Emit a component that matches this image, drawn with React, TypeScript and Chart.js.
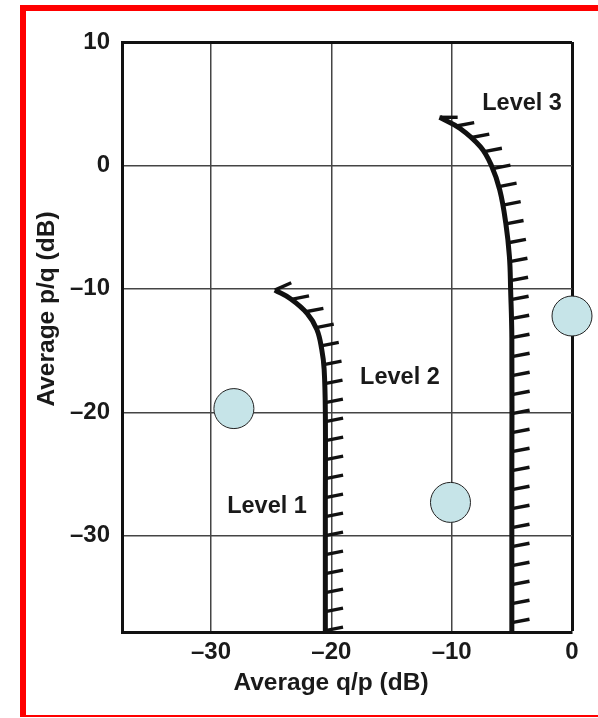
import React, { useEffect, useRef } from 'react';
import { Chart, registerables } from 'chart.js';

Chart.register(...registerables);

// ---- axis data ----
const xTickValues = [-30, -20, -10, 0];
const xTickLabels = ['–30', '–20', '–10', '0'];
const yTickValues = [-30, -20, -10, 0, 10];
const yTickLabels = ['–30', '–20', '–10', '0', '10'];
const xMin = -37.4;
const xMax = 0;
const yMin = -37.8;
const yMax = 10;
const xTitle = 'Average q/p (dB)';
const yTitle = 'Average p/q (dB)';

// ---- curves ----
const level1X = [-24.7, -23.4, -22.0, -21.2, -20.8, -20.6, -20.5, -20.5, -20.5];
const level1Y = [-10.1, -10.8, -12.0, -13.3, -14.9, -16.5, -20.0, -28.0, -37.8];
const level3X = [-11.0, -9.3, -7.6, -6.7, -6.0, -5.5, -5.2, -5.1, -5.0, -5.0, -5.0];
const level3Y = [3.9, 3.0, 1.5, 0.0, -2.0, -4.7, -7.4, -10.1, -14.0, -25.0, -37.8];

// ---- circles ----
const circleX = [-28.1, -10.1, 0];
const circleY = [-19.7, -27.3, -12.2];

// ---- text labels ----
const labelTexts = ['Level 1', 'Level 2', 'Level 3'];
const labelX = [-25.35, -14.3, -4.15];
const labelY = [-27.65, -17.2, 4.98];

const FONT_FAMILY = '"Liberation Sans", Arial, sans-serif';

const decorPlugin = {
  id: 'decor',
  afterDatasetsDraw(chart: any) {
    const ctx = chart.ctx as CanvasRenderingContext2D;
    const area = chart.chartArea;
    chart.data.datasets.forEach((ds: any, i: number) => {
      if (!ds.hatch) return;
      const pts = chart.getDatasetMeta(i).data as any[];
      const samples: { x: number; y: number }[] = [];
      for (let k = 0; k < pts.length - 1; k++) {
        const a = pts[k];
        const b = pts[k + 1];
        const c1x = a.cp2x ?? a.x, c1y = a.cp2y ?? a.y;
        const c2x = b.cp1x ?? b.x, c2y = b.cp1y ?? b.y;
        const N = 40;
        for (let s = 0; s < N; s++) {
          const t = s / N;
          const mt = 1 - t;
          samples.push({
            x: mt * mt * mt * a.x + 3 * mt * mt * t * c1x + 3 * mt * t * t * c2x + t * t * t * b.x,
            y: mt * mt * mt * a.y + 3 * mt * mt * t * c1y + 3 * mt * t * t * c2y + t * t * t * b.y,
          });
        }
      }
      const last = pts[pts.length - 1];
      samples.push({ x: last.x, y: last.y });

      const spacing = ds.hatchSpacing;
      const len = ds.hatchLength;
      const ang = (ds.hatchAngle * Math.PI) / 180;
      const firstAng = (ds.hatchFirstAngle * Math.PI) / 180;
      ctx.save();
      ctx.beginPath();
      ctx.rect(area.left, area.top, area.right - area.left, area.bottom - area.top);
      ctx.clip();
      ctx.strokeStyle = '#111';
      ctx.lineWidth = 3.4;
      ctx.lineCap = 'butt';
      let acc = 0;
      let next = 0;
      for (let j = 1; j < samples.length; j++) {
        const p0 = samples[j - 1];
        const p1 = samples[j];
        const d = Math.hypot(p1.x - p0.x, p1.y - p0.y);
        while (d > 0 && next <= acc + d) {
          const t = (next - acc) / d;
          const px = p0.x + (p1.x - p0.x) * t;
          const py = p0.y + (p1.y - p0.y) * t;
          const a2 = next === 0 ? firstAng : ang;
          ctx.beginPath();
          ctx.moveTo(px, py);
          ctx.lineTo(px + len * Math.cos(a2), py - len * Math.sin(a2));
          ctx.stroke();
          next += spacing;
        }
        acc += d;
      }
      ctx.restore();
    });

    // level labels
    const xs = chart.scales.x;
    const ys = chart.scales.y;
    ctx.save();
    ctx.fillStyle = '#1a1a1a';
    ctx.font = `bold 23.5px ${FONT_FAMILY}`;
    ctx.textAlign = 'center';
    ctx.textBaseline = 'middle';
    labelTexts.forEach((t, k) => {
      ctx.fillText(t, xs.getPixelForValue(labelX[k]), ys.getPixelForValue(labelY[k]));
    });
    ctx.restore();
  },
  afterDraw(chart: any) {
    const ctx = chart.ctx as CanvasRenderingContext2D;
    const area = chart.chartArea;
    ctx.save();
    ctx.fillStyle = '#1a1a1a';
    ctx.font = `bold 24.5px ${FONT_FAMILY}`;
    ctx.textAlign = 'center';
    ctx.textBaseline = 'middle';
    ctx.fillText(xTitle, (area.left + area.right) / 2 - 16, area.bottom + 51);
    ctx.translate(area.left - 75, (area.top + area.bottom) / 2 - 28);
    ctx.rotate(-Math.PI / 2);
    ctx.fillText(yTitle, 0, 0);
    ctx.restore();
  },
};

export default function App() {
  const ref = useRef<HTMLCanvasElement | null>(null);

  useEffect(() => {
    if (!ref.current) return;
    const lineStyle = {
      showLine: true,
      pointRadius: 0,
      pointHoverRadius: 0,
      borderColor: '#111',
      borderWidth: 5,
      tension: 0.4,
      fill: false,
      hatch: true,
      hatchSpacing: 19,
      hatchLength: 18,
      hatchAngle: 11,
    };
    const chart = new Chart(ref.current, {
      type: 'scatter',
      data: {
        datasets: [
          {
            label: 'circles',
            data: circleX.map((x, i) => ({ x, y: circleY[i] })),
            pointRadius: 20,
            pointHoverRadius: 20,
            backgroundColor: '#c6e4e8',
            borderColor: '#222',
            borderWidth: 1,
            clip: false,
          } as any,
          {
            label: 'Level 1',
            data: level1X.map((x, i) => ({ x, y: level1Y[i] })),
            ...lineStyle,
            hatchFirstAngle: 24,
          } as any,
          {
            label: 'Level 3',
            data: level3X.map((x, i) => ({ x, y: level3Y[i] })),
            ...lineStyle,
            hatchFirstAngle: 0,
          } as any,
        ],
      },
      options: {
        responsive: false,
        animation: false,
        devicePixelRatio: 1,
        layout: { padding: { top: 42, right: 26, left: 0, bottom: 0 } },
        plugins: {
          legend: { display: false },
          tooltip: { enabled: false },
        },
        events: [],
        scales: {
          x: {
            type: 'linear',
            min: xMin,
            max: xMax,
            afterFit: (s: any) => {
              s.height = 86;
            },
            afterBuildTicks: (s: any) => {
              s.ticks = xTickValues.map((v) => ({ value: v }));
            },
            ticks: {
              padding: 6,
              color: '#1a1a1a',
              font: { family: FONT_FAMILY, size: 24, weight: 'bold' },
              maxRotation: 0,
              callback: (v: any) => {
                const i = xTickValues.indexOf(Number(v));
                return i >= 0 ? xTickLabels[i] : '';
              },
            },
            grid: {
              color: (c: any) => (c.tick && c.tick.value === xMax ? '#111' : '#444'),
              lineWidth: (c: any) => (c.tick && c.tick.value === xMax ? 3 : 1.5),
              drawTicks: false,
            },
            border: { color: '#111', width: 3 },
          },
          y: {
            type: 'linear',
            min: yMin,
            max: yMax,
            afterFit: (s: any) => {
              s.width = 122;
            },
            afterBuildTicks: (s: any) => {
              s.ticks = yTickValues.map((v) => ({ value: v }));
            },
            ticks: {
              padding: 12,
              color: '#1a1a1a',
              font: { family: FONT_FAMILY, size: 24, weight: 'bold' },
              callback: (v: any) => {
                const i = yTickValues.indexOf(Number(v));
                return i >= 0 ? yTickLabels[i] : '';
              },
            },
            grid: {
              color: (c: any) => (c.tick && c.tick.value === yMax ? '#111' : '#444'),
              lineWidth: (c: any) => (c.tick && c.tick.value === yMax ? 3 : 1.5),
              drawTicks: false,
            },
            border: { color: '#111', width: 3 },
          },
        },
      } as any,
      plugins: [decorPlugin],
    });
    return () => chart.destroy();
  }, []);

  return (
    <div
      style={{
        position: 'fixed',
        left: 0,
        top: 0,
        width: 598,
        height: 718,
        background: '#fff',
        overflow: 'hidden',
      }}
    >
      <canvas ref={ref} width={598} height={718} style={{ position: 'absolute', left: 0, top: 0, width: 598, height: 718 }} />
      <div
        style={{
          position: 'absolute',
          left: 20,
          top: 5,
          width: 578,
          height: 712,
          boxSizing: 'border-box',
          borderTop: '6px solid #ff0000',
          borderLeft: '6px solid #ff0000',
          borderBottom: '2px solid #ff0000',
          pointerEvents: 'none',
        }}
      />
    </div>
  );
}
